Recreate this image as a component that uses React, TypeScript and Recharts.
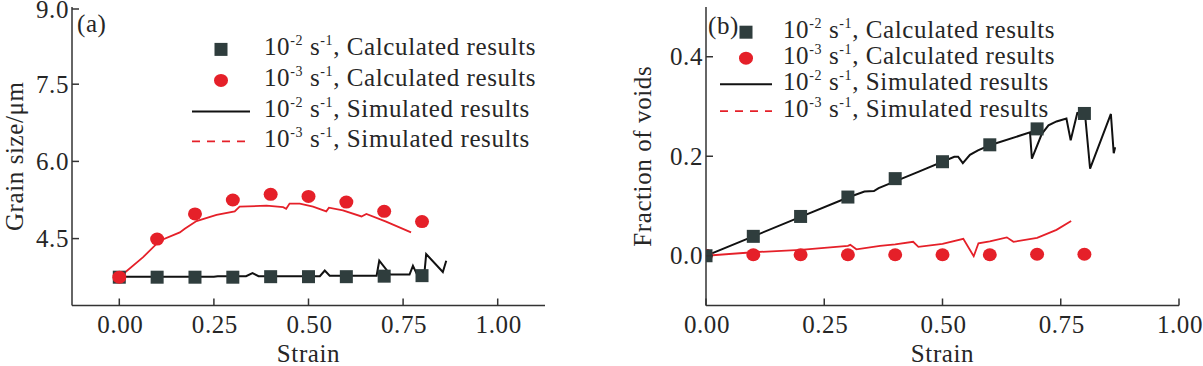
import React from "react";
import {
  ComposedChart,
  Line,
  Scatter,
  XAxis,
  YAxis,
  Legend,
  Label,
  Customized,
} from "recharts";

const FONT = '"Liberation Serif", "Times New Roman", serif';
const INK = "#262626";
const AXIS = "#333333";
const RED = "#e52029";
const SLATE = "#2f3d3d";

// axis ticks
const strainTicks = [0, 0.25, 0.5, 0.75, 1];
const grainTicks = [4.5, 6.0, 7.5, 9.0];
const voidTicks = [0, 0.2, 0.4];

// calculated results (markers)
const calcStrain = [0, 0.1, 0.2, 0.3, 0.4, 0.5, 0.6, 0.7, 0.8];
const grainCalcFast = [3.75, 3.75, 3.75, 3.75, 3.76, 3.76, 3.76, 3.77, 3.78];
const grainCalcSlow = [3.75, 4.49, 4.98, 5.25, 5.36, 5.32, 5.21, 5.03, 4.83];
const voidCalcFast = [0.0, 0.039, 0.079, 0.118, 0.155, 0.189, 0.223, 0.255, 0.286];
const voidCalcSlow = [0.001, 0.002, 0.002, 0.002, 0.002, 0.002, 0.002, 0.003, 0.003];

// simulated results (lines)
const grainSimFastStrain = [0, 0.25, 0.26, 0.335, 0.352, 0.368, 0.53, 0.543, 0.556, 0.68, 0.687, 0.716, 0.767, 0.776, 0.787, 0.806, 0.811, 0.855, 0.864];
const grainSimFast = [3.76, 3.76, 3.77, 3.77, 3.83, 3.77, 3.77, 3.88, 3.78, 3.78, 4.07, 3.8, 3.8, 3.97, 3.8, 3.8, 4.2, 3.85, 4.07];
const grainSimSlowStrain = [0, 0.063, 0.107, 0.16, 0.173, 0.204, 0.257, 0.305, 0.318, 0.389, 0.433, 0.441, 0.45, 0.477, 0.512, 0.547, 0.554, 0.591, 0.64, 0.653, 0.705, 0.771];
const grainSimSlow = [3.75, 4.14, 4.46, 4.62, 4.69, 4.84, 4.96, 5.03, 5.12, 5.14, 5.11, 5.08, 5.18, 5.18, 5.12, 5.03, 5.1, 5.05, 4.93, 4.98, 4.83, 4.62];
const voidSimFastStrain = [0, 0.1, 0.2, 0.3, 0.335, 0.355, 0.365, 0.45, 0.525, 0.533, 0.543, 0.558, 0.575, 0.6, 0.685, 0.689, 0.71, 0.724, 0.741, 0.762, 0.771, 0.785, 0.801, 0.812, 0.856, 0.862, 0.865];
const voidSimFast = [0.0, 0.039, 0.078, 0.117, 0.129, 0.13, 0.136, 0.169, 0.199, 0.199, 0.186, 0.203, 0.212, 0.222, 0.248, 0.195, 0.245, 0.262, 0.27, 0.276, 0.232, 0.287, 0.288, 0.175, 0.285, 0.206, 0.218];
const voidSimSlowStrain = [0, 0.1, 0.2, 0.3, 0.305, 0.318, 0.368, 0.4, 0.438, 0.449, 0.5, 0.544, 0.566, 0.576, 0.6, 0.636, 0.65, 0.7, 0.741, 0.772];
const voidSimSlow = [0.0, 0.007, 0.012, 0.02, 0.022, 0.013, 0.02, 0.023, 0.028, 0.018, 0.024, 0.034, -0.001, 0.025, 0.029, 0.037, 0.028, 0.036, 0.052, 0.07];

const legendRates = ["-2", "-3", "-2", "-3"];
const legendNames = ["Calculated results", "Calculated results", "Simulated results", "Simulated results"];
const legendKinds = ["square", "circle", "solid", "dashed"];

const pts = (xs: number[], ys: number[]) => xs.map((x, i) => ({ x, y: ys[i] }));

const SquareDot = (p: any) => (
  <rect x={p.cx - 6.5} y={p.cy - 6.5} width={13} height={13} fill={SLATE} />
);
const RoundDot = (p: any) => <ellipse cx={p.cx} cy={p.cy} rx={7} ry={6.5} fill={RED} />;

const txt = { fontFamily: FONT, fontSize: 25, fill: INK, letterSpacing: 0.6 };

const YTick = ({ x, y, payload, digits }: any) => (
  <g>
    <line x1={x} x2={x + 7} y1={y} y2={y} stroke={AXIS} strokeWidth={1.5} />
    <text x={x - 3} y={y + 8.5} textAnchor="end" style={txt}>
      {Number(payload.value).toFixed(digits)}
    </text>
  </g>
);

const XTick = ({ x, y, payload }: any) => (
  <g>
    <line x1={x} x2={x} y1={y} y2={y - 7} stroke={AXIS} strokeWidth={1.5} />
    <text x={x + 1} y={y + 27.5} textAnchor="middle" style={txt}>
      {Number(payload.value).toFixed(2)}
    </text>
  </g>
);

function LegendIcon({ kind, lineFrom, lineTo, h }: any) {
  const c = 30;
  const m = h / 2;
  return (
    <svg width={60} height={h} style={{ flex: "none", display: "block" }}>
      {kind === "square" && <rect x={c - 6.5} y={m - 6.5} width={13} height={13} fill={SLATE} />}
      {kind === "circle" && <ellipse cx={c} cy={m} rx={7} ry={6.5} fill={RED} />}
      {kind === "solid" && <line x1={lineFrom} x2={lineTo} y1={m} y2={m} stroke="#111" strokeWidth={2} />}
      {kind === "dashed" && (
        <line x1={lineFrom} x2={lineTo} y1={m} y2={m} stroke={RED} strokeWidth={1.8} strokeDasharray="8 7" />
      )}
    </svg>
  );
}

function LegendBox({ rowH, gap, lineFrom, lineTo }: any) {
  const sup = { fontSize: 14, position: "relative" as const, top: -10 };
  return (
    <div style={{ fontFamily: FONT, fontSize: 25, color: INK, letterSpacing: 0.6 }}>
      {legendNames.map((name, i) => (
        <div key={i} style={{ display: "flex", alignItems: "center", height: rowH, lineHeight: `${rowH}px` }}>
          <LegendIcon kind={legendKinds[i]} lineFrom={lineFrom} lineTo={lineTo} h={rowH} />
          <span style={{ marginLeft: gap, whiteSpace: "nowrap" }}>
            10<span style={sup}>{legendRates[i]}</span> s<span style={sup}>-1</span>, {name}
          </span>
        </div>
      ))}
    </div>
  );
}

function Panel(props: any) {
  const {
    width, margin, domainY, yTicks, digits, yLabel, yLabelX, tag, tagX, tagY,
    fast, slow, simFast, simSlow, xDomain, legendPos, rowH, gap, lineFrom, lineTo, squaresOnTop,
  } = props;
  const squares = (
    <Scatter key="sq" data={fast} dataKey="y" shape={SquareDot} isAnimationActive={false} />
  );
  const circles = (
    <Scatter key="ci" data={slow} dataKey="y" shape={RoundDot} isAnimationActive={false} />
  );
  return (
    <ComposedChart width={width} height={366} margin={margin}>
      <XAxis
        dataKey="x"
        type="number"
        domain={xDomain}
        ticks={strainTicks}
        allowDataOverflow
        height={40}
        tickSize={0}
        tickMargin={0}
        tickLine={false}
        tick={<XTick />}
        axisLine={{ stroke: AXIS, strokeWidth: 1.5 }}
      >
        <Label
          content={({ viewBox }: any) => (
            <text x={viewBox.x + viewBox.width / 2} y={viewBox.y + 56} textAnchor="middle" style={txt}>
              Strain
            </text>
          )}
        />
      </XAxis>
      <XAxis xAxisId="top" orientation="top" type="number" domain={xDomain} height={0} tick={false} tickLine={false} axisLine={{ stroke: AXIS, strokeWidth: 1.5 }} />
      <YAxis
        dataKey="y"
        type="number"
        domain={domainY}
        ticks={yTicks}
        allowDataOverflow
        width={60}
        tickSize={0}
        tickMargin={0}
        tickLine={false}
        tick={<YTick digits={digits} />}
        axisLine={{ stroke: AXIS, strokeWidth: 1.5 }}
      >
        <Label
          content={({ viewBox }: any) => {
            const cy = viewBox.y + viewBox.height / 2;
            return (
              <text x={yLabelX} y={cy} transform={`rotate(-90 ${yLabelX} ${cy})`} textAnchor="middle" style={txt}>
                {yLabel}
              </text>
            );
          }}
        />
      </YAxis>
      <YAxis yAxisId="right" orientation="right" type="number" domain={domainY} width={0} tick={false} tickLine={false} axisLine={{ stroke: AXIS, strokeWidth: 1.5 }} />
      {squaresOnTop ? [circles, squares] : [squares, circles]}
      <Line data={simFast} dataKey="y" type="linear" stroke="#111" strokeWidth={2} dot={false} isAnimationActive={false} />
      <Line data={simSlow} dataKey="y" type="linear" stroke={RED} strokeWidth={1.8} dot={false} isAnimationActive={false} />
      <Customized
        component={() => (
          <text x={tagX} y={tagY} style={txt}>
            {tag}
          </text>
        )}
      />
      <Legend
        layout="vertical"
        align="center"
        verticalAlign="middle"
        wrapperStyle={{ position: "absolute", top: legendPos[1], left: legendPos[0], width: 400, margin: 0, padding: 0 }}
        content={() => <LegendBox rowH={rowH} gap={gap} lineFrom={lineFrom} lineTo={lineTo} />}
      />
    </ComposedChart>
  );
}

export default function App() {
  return (
    <div style={{ position: "absolute", left: 0, top: 0, width: 1203, height: 366, background: "#fff" }}>
      <div style={{ position: "absolute", left: 0, top: 0 }}>
        <Panel
          width={600}
          margin={{ top: 7, right: 55, bottom: 20.5, left: 12 }}
          xDomain={[-0.125, 1.125]}
          domainY={[3.2, 9.0]}
          yTicks={grainTicks}
          digits={1}
          yLabel="Grain size/μm"
          yLabelX={23}
          tag="(a)"
          tagX={77}
          tagY={32}
          fast={pts(calcStrain, grainCalcFast)}
          slow={pts(calcStrain, grainCalcSlow)}
          simFast={pts(grainSimFastStrain, grainSimFast)}
          simSlow={pts(grainSimSlowStrain, grainSimSlow)}
          legendPos={[191, 34]}
          rowH={30.8}
          gap={13}
          lineFrom={1}
          lineTo={59}
          squaresOnTop={false}
        />
      </div>
      <div style={{ position: "absolute", left: 600, top: 0 }}>
        <Panel
          width={603}
          margin={{ top: 7, right: 24, bottom: 20.5, left: 46 }}
          xDomain={[0, 1]}
          domainY={[-0.1, 0.5]}
          yTicks={voidTicks}
          digits={1}
          yLabel="Fraction of voids"
          yLabelX={51}
          tag="(b)"
          tagX={108}
          tagY={34}
          fast={pts(calcStrain, voidCalcFast)}
          slow={pts(calcStrain, voidCalcSlow)}
          simFast={pts(voidSimFastStrain, voidSimFast)}
          simSlow={pts(voidSimSlowStrain, voidSimSlow)}
          legendPos={[116, 18.5]}
          rowH={26.4}
          gap={7}
          lineFrom={4}
          lineTo={56}
          squaresOnTop={true}
        />
      </div>
    </div>
  );
}
